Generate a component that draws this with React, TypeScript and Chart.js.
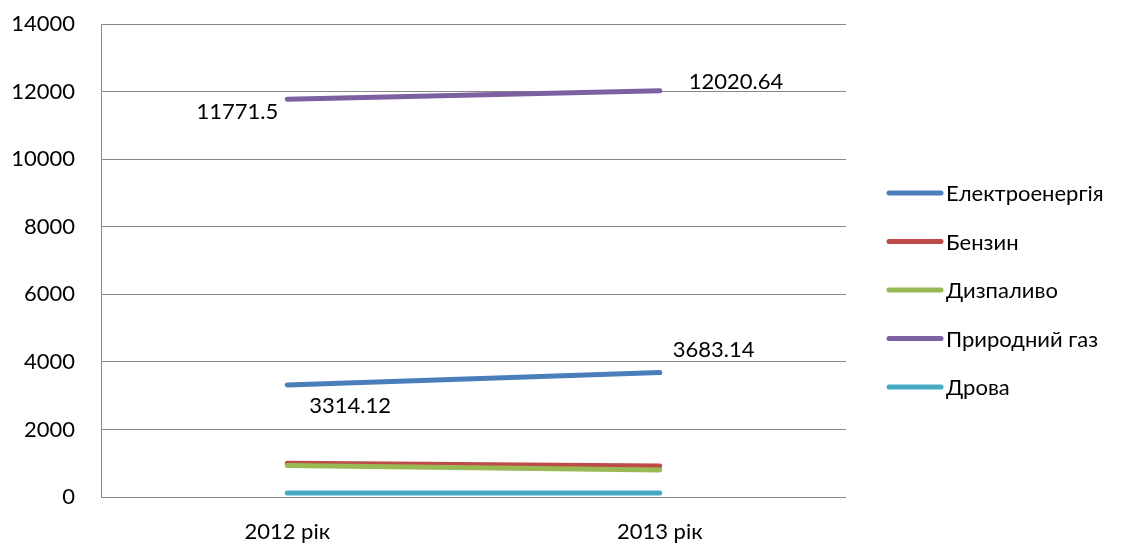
import { useEffect, useRef } from 'react';
import { Chart, registerables, type Plugin } from 'chart.js';

Chart.register(...registerables);

const YEARS = ['2012 рік', '2013 рік'];
const SERIES_NAMES = ['Електроенергія', 'Бензин', 'Дизпаливо', 'Природний газ', 'Дрова'];
const ELECTRICITY = [3314.12, 3683.14];
const PETROL = [1000, 920];
const DIESEL = [930, 800];
const NATURAL_GAS = [11771.5, 12020.64];
const FIREWOOD = [120, 120];
const Y_MIN = 0;
const Y_MAX = 14000;
const Y_STEP = 2000;

const COLORS = ['#4a7ebb', '#be4b48', '#98b954', '#7d60a0', '#46aac5'];
const FONT = { family: 'Lato, "Open Sans", sans-serif', size: 22 };

// підписи значень тільки для електроенергії та газу
const VALUE_LABELS = [
  { ds: 0, i: 0, dx: 22, dy: 21, align: 'left' as CanvasTextAlign },
  { ds: 0, i: 1, dx: 13, dy: -23, align: 'left' as CanvasTextAlign },
  { ds: 3, i: 0, dx: -9, dy: 13, align: 'right' as CanvasTextAlign },
  { ds: 3, i: 1, dx: 29, dy: -9, align: 'left' as CanvasTextAlign },
];

const valueLabels: Plugin<'line'> = {
  id: 'valueLabels',
  afterDatasetsDraw(chart) {
    const { ctx } = chart;
    ctx.save();
    ctx.font = `${FONT.size}px ${FONT.family}`;
    ctx.fillStyle = '#000';
    ctx.textBaseline = 'middle';
    for (const l of VALUE_LABELS) {
      const pt = chart.getDatasetMeta(l.ds).data[l.i];
      const v = chart.data.datasets[l.ds].data[l.i] as number;
      ctx.textAlign = l.align;
      ctx.fillText(String(v), pt.x + l.dx, pt.y + l.dy);
    }
    ctx.restore();
  },
};

const sideLegend: Plugin<'line'> = {
  id: 'sideLegend',
  afterDraw(chart) {
    const { ctx, chartArea } = chart;
    const x0 = chartArea.right + 43;
    const lineLen = 52;
    const top = 193;
    const step = 48.5;
    ctx.save();
    ctx.font = `${FONT.size}px ${FONT.family}`;
    ctx.textBaseline = 'middle';
    ctx.textAlign = 'left';
    ctx.lineCap = 'round';
    ctx.lineWidth = 5;
    chart.data.datasets.forEach((ds, k) => {
      const y = top + k * step;
      ctx.strokeStyle = ds.borderColor as string;
      ctx.beginPath();
      ctx.moveTo(x0, y);
      ctx.lineTo(x0 + lineLen, y);
      ctx.stroke();
      ctx.fillStyle = '#000';
      ctx.fillText(ds.label ?? '', x0 + lineLen + 5, y + 1);
    });
    ctx.restore();
  },
};

export default function App() {
  const canvasRef = useRef<HTMLCanvasElement>(null);
  const chartRef = useRef<Chart<'line'> | null>(null);

  useEffect(() => {
    document.body.style.margin = '0';
    if (!canvasRef.current) return;
    chartRef.current?.destroy();

    const values = [ELECTRICITY, PETROL, DIESEL, NATURAL_GAS, FIREWOOD];

    chartRef.current = new Chart(canvasRef.current, {
      type: 'line',
      data: {
        labels: YEARS,
        datasets: values.map((data, k) => ({
          label: SERIES_NAMES[k],
          data,
          borderColor: COLORS[k],
          backgroundColor: COLORS[k],
          borderWidth: 5,
          borderCapStyle: 'round',
          pointRadius: 0,
          tension: 0,
          order: values.length - k,
        })),
      },
      options: {
        animation: false,
        responsive: true,
        maintainAspectRatio: false,
        layout: { padding: { top: 24, right: 275, left: 0, bottom: 0 } },
        plugins: {
          legend: { display: false },
          tooltip: { enabled: false },
        },
        scales: {
          x: {
            offset: true,
            grid: { display: false, drawTicks: false },
            border: { display: false },
            ticks: { color: '#000', font: FONT, padding: 22 },
            afterFit: (s) => { s.height = 48; s.paddingLeft = 0; s.paddingRight = 0; },
          },
          y: {
            min: Y_MIN,
            max: Y_MAX,
            ticks: {
              stepSize: Y_STEP,
              color: '#000',
              font: FONT,
              padding: 26,
              callback: (v) => String(v),
            },
            grid: { color: '#878787', lineWidth: 1, drawTicks: false },
            border: { display: true, color: '#878787', width: 1 },
            afterFit: (s) => { s.width = 101; s.paddingTop = 0; s.paddingBottom = 0; },
          },
        },
      },
      plugins: [valueLabels, sideLegend],
    });

    return () => { chartRef.current?.destroy(); chartRef.current = null; };
  }, []);

  return (
    <div style={{ width: 1121, height: 545, position: 'relative' }}>
      <canvas ref={canvasRef} />
    </div>
  );
}
